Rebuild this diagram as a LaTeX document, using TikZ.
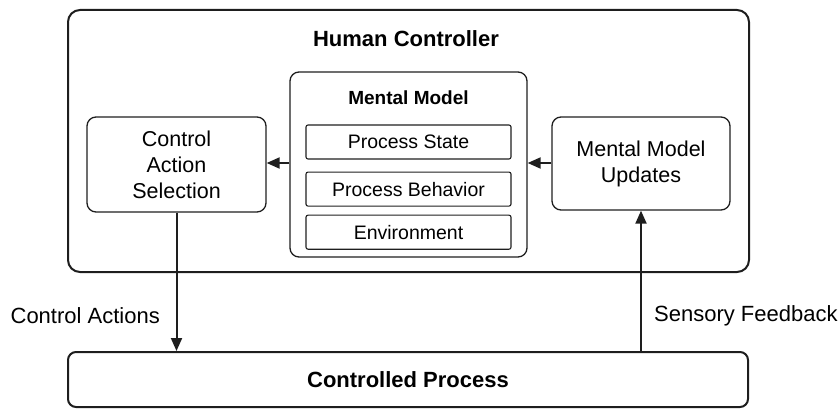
\documentclass[tikz,border=0pt]{standalone}
\usepackage{fontspec}
\setmainfont{Liberation Sans}
\usepackage{xcolor}
\usetikzlibrary{positioning, arrows.meta}
\definecolor{boxline}{RGB}{30,30,30}

\begin{document}
\begin{tikzpicture}[x=1pt, y=1pt, every node/.style={inner sep=0pt},
  bigbox/.style={draw=boxline, line width=2pt, rounded corners=12pt},
  midbox/.style={draw=boxline, line width=1.3pt, rounded corners=9pt,
    align=center, font=\fontsize{21.5}{26}\selectfont},
  itembox/.style={draw=boxline, line width=1.1pt, rounded corners=2pt,
    minimum width=205pt, minimum height=34pt, font=\fontsize{19.5}{23}\selectfont},
  title/.style={font=\bfseries\fontsize{22}{26}\selectfont},
  lbl/.style={font=\fontsize{22}{26}\selectfont},
  arrow/.style={-{Triangle[length=13pt, width=11pt]}, boxline, line width=2pt}]
\useasboundingbox (0,0) rectangle (840,410);
% outer controller and process
\node[bigbox, minimum width=681pt, minimum height=262pt] (HC) at (408.5,269) {};
\node[title] (HCt) at (406,371) {Human Controller};
\node[bigbox, rounded corners=8pt, minimum width=680pt, minimum height=55pt,
  font=\bfseries\fontsize{22}{26}\selectfont] (CP) at (408,30.5) {Controlled Process};
% mental model
\node[midbox, minimum width=237pt, minimum height=185pt] (MM) at (408.5,245.5) {};
\node[title, font=\bfseries\fontsize{19}{23}\selectfont] (MMt) at (408.5,312) {Mental Model};
\node[itembox] (PS) at (408.5,268) {Process State};
\node[itembox, below=12pt of PS] (PB) {Process Behavior};
\node[itembox, below=8pt of PB] (Env) {Environment};
% side boxes
\node[midbox, minimum width=179pt, minimum height=95pt] (CAS) at (176.5,245.5)
  {Control\\Action\\Selection};
\node[midbox, minimum width=178pt, minimum height=93pt] (MMU) at (641,246.5)
  {Mental Model\\Updates};
% connectors
\draw[arrow] (MM.west |- 0,247) -- (CAS.east |- 0,247);
\draw[arrow] (MMU.west |- 0,247) -- (MM.east |- 0,247);
\draw[arrow] (CAS.south) -- (CAS.south |- CP.north);
\draw[arrow] (MMU.south |- CP.north) -- (MMU.south);
\node[lbl, anchor=east] (CA) at (160,94) {Control Actions};
\node[lbl, anchor=west] (SF) at (654,94) {Sensory Feedback};
\end{tikzpicture}
\end{document}
